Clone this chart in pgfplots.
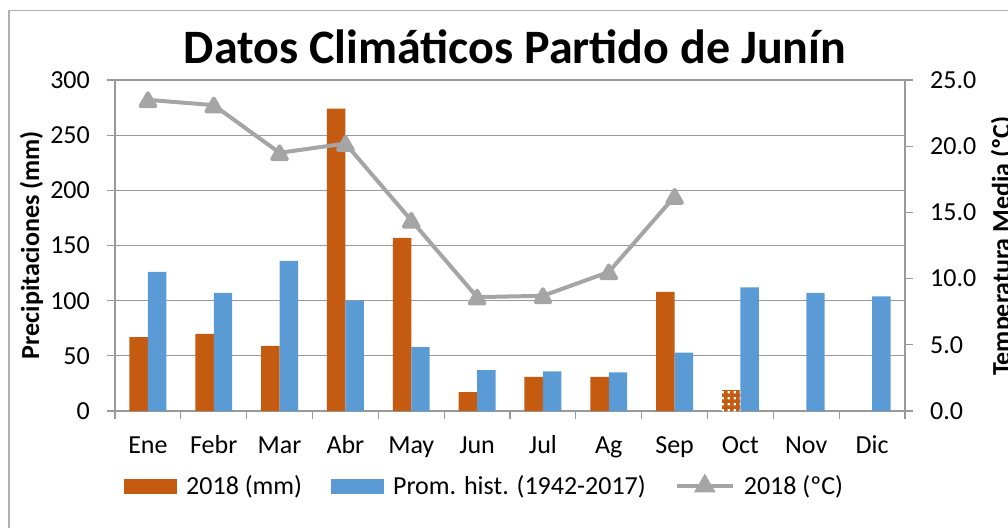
\documentclass[border=0pt]{standalone}
\usepackage{fontspec}
\setmainfont{Carlito}
\usepackage{pgfplots}
\pgfplotsset{compat=1.18}
\usepackage{pgfplotstable}
\usetikzlibrary{patterns}

\definecolor{cOr}{HTML}{C55A11}
\definecolor{cBl}{HTML}{5B9BD5}
\definecolor{cGr}{HTML}{A5A5A5}
\definecolor{cAx}{HTML}{999999}
\definecolor{cFr}{HTML}{B0B0B0}

\pgfdeclarepatternformonly{mydots}{\pgfqpoint{0pt}{0pt}}{\pgfqpoint{6pt}{6pt}}{\pgfqpoint{6pt}{6pt}}{%
  \pgfpathrectangle{\pgfqpoint{1.7pt}{1.7pt}}{\pgfqpoint{2.6pt}{2.6pt}}\pgfusepath{fill}}

\pgfplotsset{
  barleg/.style={legend image code/.code={\fill[##1] (0pt,-7.5pt) rectangle (53pt,7.5pt);}},
  lineleg/.style={legend image code/.code={%
    \draw[##1, mark=none] (0pt,0pt) -- (56pt,0pt);
    \draw[##1] plot coordinates {(28pt,0pt)};}},
}

\pgfplotstableread{
x  p
0  67
1  70
2  59
3  274
4  157
5  17
6  31
7  31
8  108
}\rainA

\pgfplotstableread{
x  p
9  19
}\rainOct

\pgfplotstableread{
x  p
0  126
1  107
2  136
3  100
4  58
5  37
6  36
7  35
8  53
9  112
10 107
11 104
}\rainHist

\pgfplotstableread{
x  t
0  23.5
1  23.1
2  19.5
3  20.2
4  14.4
5  8.6
6  8.7
7  10.5
8  16.2
}\temp

\begin{document}
\begin{tikzpicture}[x=1pt,y=1pt]
\useasboundingbox (0,0) rectangle (1008,527);
\draw[cFr, line width=1.2pt] (9,-10) -- (9,516.3) -- (1020,516.3);
\node[font=\fontsize{48}{57}\selectfont\bfseries, anchor=base, inner sep=0pt] at (515,463) {Datos Climáticos Partido de Junín};
\node[font=\fontsize{26}{31}\selectfont\bfseries, rotate=90, anchor=base, inner sep=0pt] at (39,282) {Precipitaciones (mm)};
\node[font=\fontsize{26}{31}\selectfont\bfseries, rotate=90, anchor=base, inner sep=0pt] at (1010,281) {Temperatura Media (ºC)};

\begin{axis}[
  at={(115pt,116pt)}, anchor=south west,
  scale only axis, width=790pt, height=331pt,
  xmin=-0.5, xmax=11.5, ymin=0, ymax=300,
  ytick={0,50,...,300},
  xtick={0,...,11},
  xticklabels={Ene,Febr,Mar,Abr,May,Jun,Jul,Ag,Sep,Oct,Nov,Dic},
  minor xtick={-0.5,0.5,...,11.5},
  major x tick style={draw=none},
  tick align=outside, major tick length=8pt, minor tick length=8pt,
  tick style={cAx, line width=1.2pt},
  axis x line*=bottom, axis y line*=left,
  axis line style={cAx, line width=1.2pt, -},
  every outer x axis line/.append style={-},
  every outer y axis line/.append style={-},
  ymajorgrids, grid style={cAx, line width=1.2pt},
  ybar, bar width=0.28,
  /pgf/number format/assume math mode=true,
  tick label style={font=\fontsize{26}{31}\selectfont},
  yticklabel style={anchor=east, inner sep=0pt, xshift=-17pt},
  xticklabel style={anchor=base, inner sep=0pt, yshift=-34pt},
  legend style={at={(0.0114,-0.2266)}, anchor=west, draw=none, fill=none,
    inner sep=0pt, font=\fontsize{26}{31}\selectfont,
    nodes={inner sep=3pt},
    /tikz/every odd column/.append style={column sep=6pt},
    /tikz/every even column/.append style={column sep=26pt}},
  legend columns=-1,
  legend cell align=left,
]
\addplot[fill=cOr, draw=none, bar shift=-0.14, barleg] table[x=x,y=p] {\rainA};
\addlegendentry{2018 (mm)}
\addplot[fill=cBl, draw=none, bar shift=0.14, barleg] table[x=x,y=p] {\rainHist};
\addlegendentry{Prom. hist. (1942-2017)}
\addplot[fill=cOr, draw=none, bar shift=-0.14, forget plot, postaction={pattern=mydots, pattern color=white}] table[x=x,y=p] {\rainOct};
\addlegendimage{lineleg, cGr, line width=4pt, mark=triangle*, mark size=8.5pt, mark options={solid}}
\addlegendentry{2018 (ºC)}
\end{axis}

\begin{axis}[
  at={(115pt,116pt)}, anchor=south west,
  scale only axis, width=790pt, height=331pt,
  xmin=-0.5, xmax=11.5, ymin=0, ymax=25,
  axis x line=none, axis y line*=right,
  ytick={0,5,...,25},
  tick align=outside, major tick length=8pt,
  tick style={cAx, line width=1.2pt},
  axis line style={cAx, line width=1.2pt, -},
  every outer y axis line/.append style={-},
  /pgf/number format/assume math mode=true,
  tick label style={font=\fontsize{26}{31}\selectfont},
  yticklabel style={anchor=west, inner sep=0pt, xshift=17pt,
    /pgf/number format/fixed, /pgf/number format/fixed zerofill, /pgf/number format/precision=1},
]
\addplot[cGr, line width=4pt, line join=round, mark=triangle*, mark size=8.5pt, mark options={solid, yshift=-2pt}] table[x=x,y=t] {\temp};
\end{axis}
\end{tikzpicture}
\end{document}
